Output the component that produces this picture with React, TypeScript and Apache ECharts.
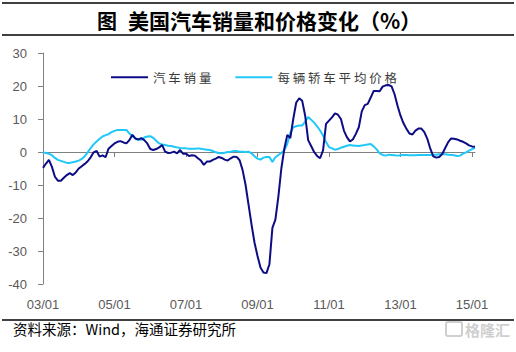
import React, { useEffect, useRef } from 'react';
import * as echarts from 'echarts';

// Monthly categories 2003-01 .. 2015-02 (label format YY/MM)
const months: string[] = [];
for (let y = 2003; y <= 2015; y++) {
  for (let m = 1; m <= 12; m++) {
    if (y === 2015 && m > 2) break;
    months.push(String(y % 100).padStart(2, '0') + '/' + String(m).padStart(2, '0'));
  }
}

const salesName = '汽车销量';
const priceName = '每辆轿车平均价格';

const salesValues: number[] = [
  -4.8, -3.5, -2.4, -4.5, -7.5, -8.7, -8.7, -7.8, -7.0, -6.4, -7.0, -6.2,
  -5.0, -4.3, -3.6, -2.8, -1.6, -0.1, 0.3, -1.4, -1.0, -1.6, 1.0, 1.8,
  2.6, 3.1, 3.3, 2.9, 2.6, 3.6, 5.2, 4.1, 3.8, 4.2, 3.6, 2.6,
  0.9, 0.6, 0.9, 1.4, 2.1, 0.1, -0.3, -0.2, 0.1, -0.4, 0.6, -0.5,
  -0.5, -1.2, -1.0, -1.1, -1.9, -2.6, -3.9, -2.9, -2.9, -2.4, -2.0, -1.5,
  -1.8, -2.3, -2.6, -1.9, -1.4, -1.5, -2.5, -5.5, -10.0, -16.0, -22.0, -27.5,
  -31.5, -35.0, -36.5, -36.7, -34.0, -23.0, -20.5, -13.5, -5.0, 1.0, 5.2, 4.2,
  10.0, 15.0, 16.3, 15.5, 11.0, 3.6, 1.8, 0.0, -1.2, -1.9, 0.5, 8.5,
  9.5, 10.5, 11.7, 11.3, 10.0, 6.5, 4.5, 3.2, 3.8, 5.5, 7.5, 12.3,
  14.2, 14.6, 16.5, 18.5, 18.5, 18.4, 19.8, 20.2, 20.3, 19.9, 17.5, 14.0,
  11.0, 8.7, 7.0, 5.6, 5.3, 6.5, 7.1, 7.1, 6.0, 4.0, 1.0, -1.3,
  -1.7, -1.5, -0.6, 1.2, 3.0, 4.1, 4.0, 3.8, 3.4, 3.1, 2.6, 2.0,
  1.7, 1.6,
];

const priceValues: number[] = [
  -0.1, -0.3, -0.5, -1.0, -1.8, -2.4, -2.7, -3.0, -3.3, -3.3, -3.1, -2.9,
  -2.6, -2.1, -1.3, -0.1, 1.2, 2.3, 3.2, 4.0, 4.7, 5.1, 5.4, 6.0,
  6.4, 6.7, 6.7, 6.7, 6.7, 5.6, 4.8, 4.1, 3.7, 3.7, 4.4, 4.7,
  4.8, 4.3, 3.4, 2.6, 2.3, 2.1, 1.9, 1.8, 1.6, 1.4, 1.2, 1.1,
  1.1, 1.0, 1.0, 1.0, 1.1, 1.0, 0.8, 0.7, 0.6, 0.3, -0.1, -0.3,
  -0.4, -0.2, 0.0, 0.1, 0.3, 0.3, 0.1, 0.1, 0.0, 0.1, -0.4, -1.3,
  -2.0, -2.3, -1.7, -1.5, -1.5, -3.0, -1.6, -0.9, -0.3, 0.5, 2.5, 5.8,
  7.5, 7.8, 8.0, 8.0, 9.2, 10.6, 9.8, 8.9, 7.8, 6.5, 5.0, 3.0,
  1.5, 1.1, 0.7, 0.9, 1.3, 1.6, 1.9, 2.1, 2.0, 1.9, 1.8, 2.0,
  2.1, 2.3, 2.4, 1.7, 0.8, -0.4, -0.9, -1.1, -0.8, -0.9, -1.0, -1.1,
  -1.0, -0.9, -0.9, -1.0, -1.0, -1.0, -0.9, -0.9, -0.9, -0.9, -0.9, -0.8,
  -0.8, -0.7, -0.6, -0.7, -0.8, -0.9, -1.0, -1.2, -1.1, -0.5, -0.1, 0.4,
  0.9, 1.2,
];

const yMin = -40;
const yMax = 30;
const yStep = 10;
const labelEvery = 24;

const titleMark = '图';
const titleText = '美国汽车销量和价格变化（%）';
const sourceText = '资料来源：Wind，海通证券研究所';
const watermark = '格隆汇';

export default function App() {
  const ref = useRef<HTMLDivElement>(null);

  useEffect(() => {
    if (!ref.current) return;
    const chart = echarts.init(ref.current, undefined, { renderer: 'svg' });
    const axisGray = '#808080';
    const labelGray = '#595959';
    const cjk = '"Noto Sans CJK SC", "Noto Sans", sans-serif';
    const latin = '"Liberation Sans", Arial, sans-serif';
    const navy = '#0c0c84';
    const cyan = '#1ec8f8';

    chart.setOption({
      animation: false,
      backgroundColor: '#ffffff',
      grid: { left: 43, right: 41, top: 53, bottom: 68, containLabel: false },
      legend: {
        left: 106,
        top: 66,
        icon: 'rect',
        itemWidth: 37,
        itemHeight: 2,
        itemGap: 24,
        data: [
          { name: salesName, itemStyle: { color: navy } },
          { name: priceName, itemStyle: { color: cyan } },
        ],
        formatter: (n: string) => n.split('').join(' '),
        textStyle: { fontSize: 12.5, color: '#3a3a3a', fontFamily: cjk },
      },
      xAxis: [
        {
          type: 'category',
          data: months,
          boundaryGap: false,
          axisLine: { show: true, onZero: true, lineStyle: { color: axisGray, width: 1 } },
          axisTick: {
            show: true,
            length: 5,
            interval: (i: number) => i % labelEvery === 0,
            lineStyle: { color: axisGray },
          },
          axisLabel: { show: false },
          splitLine: { show: false },
        },
        {
          type: 'category',
          data: months,
          boundaryGap: false,
          position: 'bottom',
          axisLine: { show: false, onZero: false },
          axisTick: { show: false },
          axisLabel: {
            show: true,
            interval: (i: number) => i % labelEvery === 0,
            margin: 14,
            color: labelGray,
            fontSize: 13,
            fontFamily: latin,
          },
          splitLine: { show: false },
        },
      ],
      yAxis: {
        type: 'value',
        min: yMin,
        max: yMax,
        interval: yStep,
        axisLine: { show: true, lineStyle: { color: axisGray, width: 1 } },
        axisTick: { show: true, length: 5, lineStyle: { color: axisGray } },
        axisLabel: { margin: 16, color: labelGray, fontSize: 13, fontFamily: latin },
        splitLine: { show: false },
      },
      series: [
        {
          name: salesName,
          type: 'line',
          xAxisIndex: 0,
          data: salesValues,
          symbol: 'none',
          smooth: false,
          lineStyle: { color: navy, width: 2 },
          itemStyle: { color: navy },
          z: 3,
        },
        {
          name: priceName,
          type: 'line',
          xAxisIndex: 0,
          data: priceValues,
          symbol: 'none',
          smooth: false,
          lineStyle: { color: cyan, width: 2 },
          itemStyle: { color: cyan },
          z: 2,
        },
      ],
      graphic: [
        { type: 'line', shape: { x1: 2, y1: 3, x2: 514, y2: 3 }, style: { stroke: '#000', lineWidth: 1.5 } },
        { type: 'line', shape: { x1: 2, y1: 35, x2: 514, y2: 35 }, style: { stroke: '#000', lineWidth: 1.5 } },
        { type: 'line', shape: { x1: 2, y1: 320, x2: 514, y2: 320 }, style: { stroke: '#000', lineWidth: 1.5 } },
        {
          type: 'text',
          x: 97,
          y: 20,
          style: { text: titleMark, fill: '#000', font: `bold 20px ${cjk}`, align: 'left', verticalAlign: 'middle' },
        },
        {
          type: 'text',
          x: 128,
          y: 20,
          style: { text: titleText, fill: '#000', font: `bold 21px ${cjk}`, align: 'left', verticalAlign: 'middle' },
        },
        {
          type: 'text',
          x: 13,
          y: 328,
          style: { text: sourceText, fill: '#000', font: `14.5px ${cjk}`, align: 'left', verticalAlign: 'middle' },
        },
        {
          type: 'rect',
          shape: { x: 446, y: 322, width: 16, height: 14, r: 2 },
          style: { fill: 'none', stroke: '#cfcfcf', lineWidth: 2 },
        },
        {
          type: 'text',
          x: 465,
          y: 329,
          style: { text: watermark, fill: '#cfcfcf', font: `bold 15px ${cjk}`, align: 'left', verticalAlign: 'middle' },
        },
      ],
    });
    return () => chart.dispose();
  }, []);

  return (
    <div
      ref={ref}
      style={{ position: 'fixed', left: 0, top: 0, width: 516, height: 352, background: '#fff' }}
    />
  );
}
